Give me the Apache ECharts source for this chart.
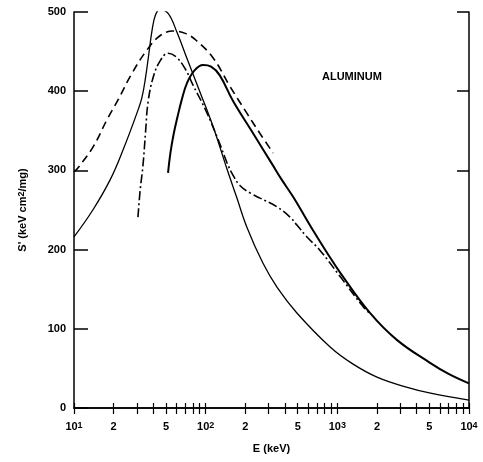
<!DOCTYPE html>
<html><head><meta charset="utf-8">
<script src="https://cdn.jsdelivr.net/npm/echarts@6/dist/echarts.min.js"></script>
<style>html,body{margin:0;padding:0;background:#fff}#c{width:483px;height:462px}</style>
</head><body><div id="c"></div>
<script>
// Energy (keV) / stopping power S' (keV cm^2/mg)
var thinSolid = [[10,216],[13.9,250],[18.8,288],[23.6,326],[30,372],[32.8,392],[35,418],[37,447],[39,475],[41.5,496],[45,503],[52,498],[60,476],[73,439],[90,400],[114,355],[145,302],[172,266],[206,228],[272,183],[350,152],[493,120],[882,77],[1300,56],[2000,39],[3400,26],[5000,19],[10000,10]];
var dashed = [[10,298],[10.7,303],[14,330],[17.8,364],[21.6,389],[27,420],[35.8,452],[45,470],[56.5,476],[70,473],[85,464],[114,442],[153,406],[206,372],[260,346],[325,322]];
var dashDot = [[30.6,241],[31.8,275],[33.4,306],[35,350],[36.5,386],[40,418],[45,438],[51.8,448],[60,443],[70,428],[80,408],[100,376],[125,338],[145,310],[160,295],[182,281],[220,271],[259,265],[348,254],[438,241],[493,231],[588,216],[739,199],[1050,166],[1570,128],[1800,118]];
var thickSolid = [[51.8,297],[54,322],[57,345],[61,367],[66,390],[72,410],[82,426],[95.6,433],[110,431],[128,420],[161,388],[229,347],[325,306],[379,288],[464,266],[655,224],[835,196],[1050,171],[1770,120],[2830,86],[5060,57],[7000,43],[10000,31]];

var xLabelValues = [10,20,50,100,200,500,1000,2000,5000,10000];
var xLabelTexts = ['10{s|1}','2','5','10{s|2}','2','5','10{s|3}','2','5','10{s|4}'];
var xTickValues = [10,20,30,40,50,60,70,80,90,100,200,300,400,500,600,700,800,900,1000,2000,3000,4000,5000,6000,7000,8000,9000,10000];
var yTickValues = [0,100,200,300,400,500];

var FONT = 'Liberation Sans';
var chart = echarts.init(document.getElementById('c'));
function xfmt(v){
  var i = xLabelValues.findIndex(function(t){return Math.abs(t-v)/t<1e-6;});
  return i>=0 ? xLabelTexts[i] : '';
}
var rich = {s:{fontSize:9,verticalAlign:'top',lineHeight:9,fontFamily:FONT,fontWeight:'bold',color:'#000',padding:[0,0,6,0]}};
var lineBase = {type:'line',smooth:0.4,symbol:'none',clip:true};
chart.setOption({
  animation:false,
  grid:{left:74,top:12,right:14,bottom:54},
  xAxis:[{
    type:'log', min:10, max:10000, logBase:10,
    name:'E (keV)', nameLocation:'middle', nameGap:35,
    nameTextStyle:{fontFamily:FONT,fontSize:11,fontWeight:'bold',color:'#000'},
    axisLine:{lineStyle:{color:'#000',width:1.5}},
    axisTick:{inside:true,length:5,customValues:xTickValues,lineStyle:{color:'#000',width:1.2}},
    axisLabel:{customValues:xLabelValues,formatter:xfmt,margin:13,fontFamily:FONT,fontSize:11,fontWeight:'bold',color:'#000',rich:rich},
    splitLine:{show:false}, minorTick:{show:false}
  },{
    type:'log', min:10, max:10000, position:'top',
    axisLine:{lineStyle:{color:'#000',width:1.5}},
    axisTick:{inside:true,length:6,customValues:xTickValues,lineStyle:{color:'#000',width:1.2}},
    axisLabel:{show:false}, splitLine:{show:false}
  }],
  yAxis:[{
    type:'value', min:0, max:500, interval:100,
    name:"S' (keV cm{s|2}/mg)", nameLocation:'middle', nameGap:46, nameRotate:90,
    nameTextStyle:{fontFamily:FONT,fontSize:11,fontWeight:'bold',color:'#000',rich:rich},
    axisLine:{show:true,lineStyle:{color:'#000',width:1.5}},
    axisTick:{show:true,inside:true,length:14,customValues:yTickValues,lineStyle:{color:'#000',width:1.5}},
    axisLabel:{margin:8,fontFamily:FONT,fontSize:11,fontWeight:'bold',color:'#000'},
    splitLine:{show:false}
  },{
    type:'value', min:0, max:500, interval:100, position:'right',
    axisLine:{show:true,lineStyle:{color:'#000',width:1.5}},
    axisTick:{show:true,inside:true,length:12,lineStyle:{color:'#000',width:1.5}},
    axisLabel:{show:false}, splitLine:{show:false}
  }],
  graphic:[{type:'text',left:322,top:71,style:{text:'ALUMINUM',font:'bold 11px '+FONT,fill:'#000'}}],
  series:[
    Object.assign({data:thinSolid,lineStyle:{color:'#000',width:1.3}},lineBase),
    Object.assign({data:dashed,lineStyle:{color:'#000',width:1.6,type:[8,5]}},lineBase),
    Object.assign({data:dashDot,lineStyle:{color:'#000',width:1.6,type:[9,3,2,3]}},lineBase),
    Object.assign({data:thickSolid,lineStyle:{color:'#000',width:2}},lineBase)
  ]
});
</script></body></html>
